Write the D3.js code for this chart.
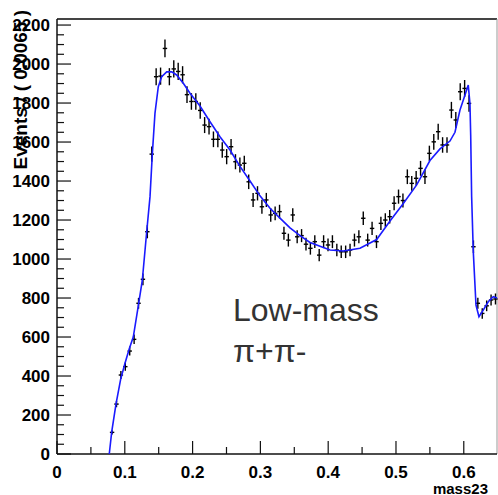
<!DOCTYPE html>
<html>
<head>
<meta charset="utf-8">
<script src="https://cdn.jsdelivr.net/npm/d3@7"></script>
<style>
  body { margin: 0; background: #fff; }
  svg { display: block; font-family: "Liberation Sans", Arial, sans-serif; }
  .tick-label { font-weight: bold; font-size: 17px; fill: #000; }
</style>
</head>
<body>
<div id="chart"></div>
<script>
// histogram: 100 bins of width 0.0065 on [0, 0.65]; first filled bin is 12
const binWidth = 0.0065;
const firstBin = 12;
const binCounts = [
  111, 256, 405, 448, 528, 588, 773, 896, 1140, 1538,
  1935, 1938, 2080, 1935, 1975, 1962, 1945, 1843, 1808, 1808,
  1762, 1687, 1679, 1614, 1614, 1559, 1525, 1576, 1499, 1482,
  1491, 1396, 1303, 1337, 1268, 1303, 1226, 1234, 1243, 1132,
  1097, 1226, 1114, 1120, 1076, 1055, 1089, 1020, 1089, 1072,
  1089, 1046, 1037, 1037, 1046, 1097, 1114, 1209, 1097, 1157,
  1089, 1183, 1200, 1217, 1286, 1320, 1300, 1422, 1388, 1414,
  1465, 1422, 1542, 1601, 1653, 1585, 1585, 1764, 1713, 1858,
  1875, 1798, 1063, 773, 721, 760, 790, 795
];

// fitted curve
const fitX = [
  0.0771, 0.0807, 0.0870, 0.0940, 0.1003, 0.1066, 0.1125, 0.1199, 0.1258, 0.1323,
  0.1372, 0.1406, 0.1445, 0.1494, 0.1544, 0.1618, 0.1692, 0.1765, 0.1863, 0.1962,
  0.2109, 0.2257, 0.2404, 0.2552, 0.2699, 0.2847, 0.2994, 0.3142, 0.3289, 0.3437,
  0.3584, 0.3732, 0.4027, 0.4223, 0.4469, 0.4715, 0.4912, 0.5108, 0.5305, 0.5501,
  0.5649, 0.5796, 0.5870, 0.5944, 0.6018, 0.6066, 0.6091, 0.6102, 0.6116, 0.6140,
  0.6180, 0.6224, 0.6287, 0.6361, 0.6435, 0.6490
];
const fitY = [
  0, 113, 256, 385, 465, 540, 600, 760, 890, 1140,
  1320, 1538, 1747, 1884, 1935, 1960, 1960, 1944, 1901, 1850,
  1785, 1704, 1627, 1559, 1475, 1400, 1324, 1260, 1210, 1160,
  1120, 1085, 1046, 1041, 1055, 1100, 1195, 1285, 1380, 1505,
  1565, 1605, 1650, 1764, 1841, 1892, 1798, 1636, 1320, 1040,
  764, 704, 738, 781, 807, 800
];

const xMajor = [0, 0.1, 0.2, 0.3, 0.4, 0.5, 0.6];
const xMinor = [0.05, 0.15, 0.25, 0.35, 0.45, 0.55];
const yMajor = [0, 200, 400, 600, 800, 1000, 1200, 1400, 1600, 1800, 2000, 2200];
const yMinor = d3.range(50, 2231, 50).filter(v => v % 200 !== 0);

const W = 498, H = 495;
const m = { left: 57, top: 19, right: 1, bottom: 41 };

const svg = d3.select("#chart").append("svg")
  .attr("width", W).attr("height", H);

const x = d3.scaleLinear().domain([0, 0.649]).range([m.left, W - m.right]);
const y = d3.scaleLinear().domain([0, 2231]).range([H - m.bottom, m.top]);

// frame
svg.append("line")
  .attr("x1", m.left).attr("x2", W - m.right)
  .attr("y1", m.top).attr("y2", m.top)
  .attr("stroke", "#444").attr("stroke-width", 2);
svg.append("line")
  .attr("x1", W - m.right).attr("x2", W - m.right)
  .attr("y1", m.top).attr("y2", H - m.bottom)
  .attr("stroke", "#999").attr("stroke-width", 1);

// y axis
const yAxis = svg.append("g").attr("transform", `translate(${m.left},0)`);
yAxis.append("line")
  .attr("y1", y(0)).attr("y2", m.top)
  .attr("stroke", "#111").attr("stroke-width", 1.5);
yAxis.selectAll(".maj").data(yMajor).enter().append("line")
  .attr("x1", 0).attr("x2", 14)
  .attr("y1", d => y(d)).attr("y2", d => y(d))
  .attr("stroke", "#111").attr("stroke-width", 1.2);
yAxis.selectAll(".min").data(yMinor).enter().append("line")
  .attr("x1", 0).attr("x2", 7)
  .attr("y1", d => y(d)).attr("y2", d => y(d))
  .attr("stroke", "#111").attr("stroke-width", 1.2);
yAxis.selectAll("text").data(yMajor).enter().append("text")
  .attr("class", "tick-label")
  .attr("x", -7).attr("y", d => y(d))
  .attr("dy", "0.36em")
  .attr("text-anchor", "end")
  .text(d => d);

// x axis
const xAxis = svg.append("g").attr("transform", `translate(0,${y(0)})`);
xAxis.append("line")
  .attr("x1", m.left).attr("x2", W - m.right)
  .attr("stroke", "#111").attr("stroke-width", 1.5);
xAxis.selectAll(".maj").data(xMajor).enter().append("line")
  .attr("x1", d => x(d)).attr("x2", d => x(d))
  .attr("y1", 0).attr("y2", -13)
  .attr("stroke", "#111").attr("stroke-width", 1.2);
xAxis.selectAll(".min").data(xMinor).enter().append("line")
  .attr("x1", d => x(d)).attr("x2", d => x(d))
  .attr("y1", 0).attr("y2", -7)
  .attr("stroke", "#111").attr("stroke-width", 1.2);
xAxis.selectAll("text").data(xMajor).enter().append("text")
  .attr("class", "tick-label")
  .attr("x", d => x(d)).attr("y", 24)
  .attr("text-anchor", "middle")
  .text(d => d);

// axis titles
svg.append("text")
  .attr("x", 488).attr("y", 494)
  .attr("text-anchor", "end")
  .attr("font-weight", "bold").attr("font-size", 15)
  .text("mass23");
svg.append("text")
  .attr("transform", "translate(27,10) rotate(-90)")
  .attr("text-anchor", "end")
  .attr("font-weight", "bold").attr("font-size", 19)
  .text("Events / ( 0.0065 )");

// data points with errors
const points = binCounts.map((n, i) => ({
  x: (firstBin + i + 0.5) * binWidth,
  n: n
}));
const pts = svg.append("g").attr("stroke", "#000").attr("stroke-width", 1.4);
pts.selectAll(".ex").data(points).enter().append("line")
  .attr("x1", d => x(d.x - binWidth / 2)).attr("x2", d => x(d.x + binWidth / 2))
  .attr("y1", d => y(d.n)).attr("y2", d => y(d.n));
pts.selectAll(".ey").data(points).enter().append("line")
  .attr("x1", d => x(d.x)).attr("x2", d => x(d.x))
  .attr("y1", d => y(d.n - Math.sqrt(d.n))).attr("y2", d => y(d.n + Math.sqrt(d.n)));

// fit curve
const line = d3.line().x(d => x(d[0])).y(d => y(d[1]));
svg.append("path")
  .datum(d3.zip(fitX, fitY))
  .attr("d", line)
  .attr("fill", "none")
  .attr("stroke", "#1a1aff")
  .attr("stroke-width", 1.6);

// label
const label = svg.append("g").attr("fill", "#333").attr("font-size", 32);
label.append("text").attr("x", 233).attr("y", 321).text("Low-mass");
label.append("text").attr("x", 233).attr("y", 362).text("π+π-");
</script>
</body>
</html>
